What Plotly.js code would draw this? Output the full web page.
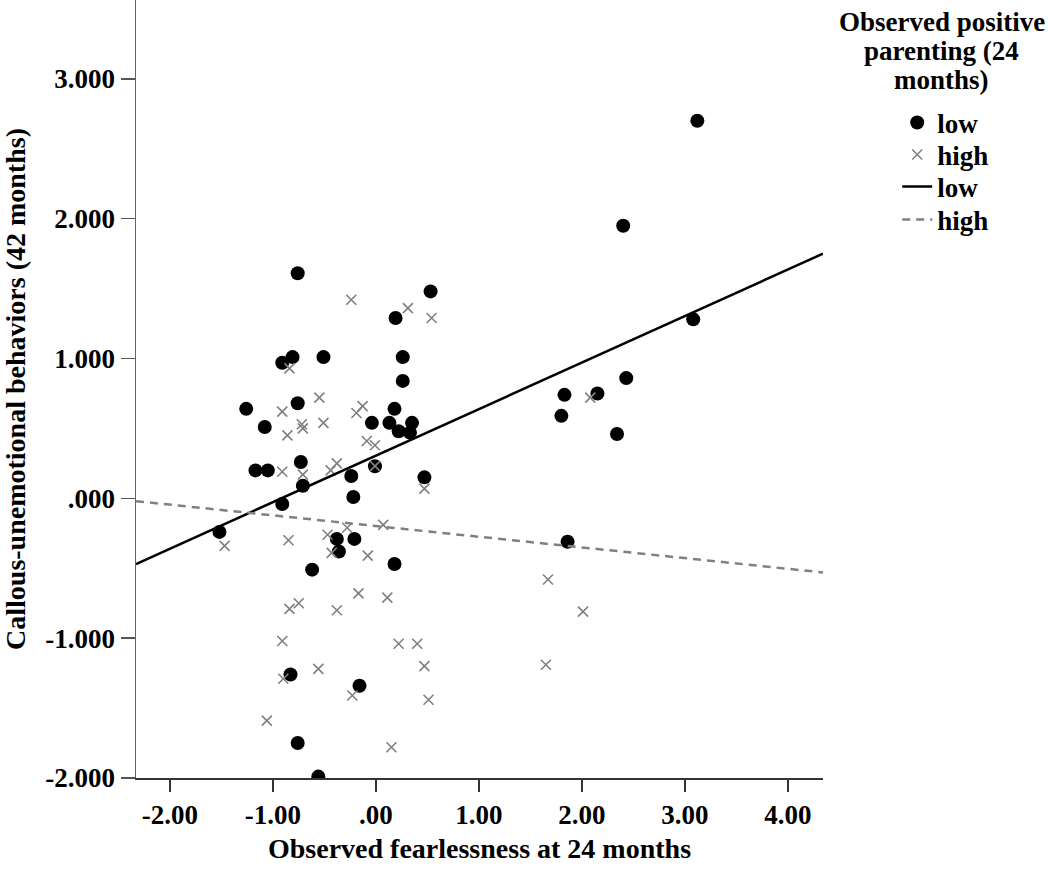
<!DOCTYPE html>
<html>
<head>
<meta charset="utf-8">
<script src="https://cdn.plot.ly/plotly-3.0.1.min.js"></script>
<style>html,body{margin:0;padding:0;background:#fff;}#chart{width:1050px;height:872px;}</style>
</head>
<body>
<div id="chart"></div>
<script>
// Low positive parenting (filled circles)
const lowX = [-1.52,-1.26,-1.08,-1.17,-1.05,-0.91,-0.81,-0.76,-0.76,-0.73,-0.71,-0.91,-0.83,-0.76,-0.56,-0.62,-0.51,-0.38,-0.36,-0.24,-0.22,-0.21,-0.16,-0.04,-0.01,0.19,0.18,0.26,0.26,0.13,0.22,0.35,0.33,0.18,0.47,0.53,1.80,1.83,1.86,2.15,2.34,2.40,2.43,3.08,3.12];
const lowY = [-0.24,0.64,0.51,0.20,0.20,0.97,1.01,1.61,0.68,0.26,0.09,-0.04,-1.26,-1.75,-1.99,-0.51,1.01,-0.29,-0.38,0.16,0.01,-0.29,-1.34,0.54,0.23,1.29,0.64,1.01,0.84,0.54,0.48,0.54,0.47,-0.47,0.15,1.48,0.59,0.74,-0.31,0.75,0.46,1.95,0.86,1.28,2.70];
// High positive parenting (crosses)
const highX = [-1.47,-0.85,-0.84,-0.91,-0.55,-0.86,-0.72,-0.71,-0.51,-0.91,-0.71,-0.44,-0.38,-0.24,0.31,0.54,-0.13,-0.19,-0.09,-0.01,-0.01,0.47,-0.47,-0.28,0.07,-0.43,-0.08,-0.84,-0.75,-0.38,-0.17,0.11,-0.91,-0.90,-0.56,-0.23,-1.06,0.22,0.40,0.47,0.51,0.15,1.67,2.01,1.65,2.08];
const highY = [-0.34,-0.30,0.93,0.62,0.72,0.45,0.53,0.50,0.54,0.19,0.17,0.20,0.25,1.42,1.36,1.29,0.66,0.61,0.41,0.38,0.23,0.07,-0.26,-0.21,-0.19,-0.39,-0.41,-0.79,-0.75,-0.80,-0.68,-0.71,-1.02,-1.29,-1.22,-1.41,-1.59,-1.04,-1.04,-1.20,-1.44,-1.78,-0.58,-0.81,-1.19,0.72];
// Fit lines (end points)
const fitX = [-2.33, 4.34];
const fitLowY = [-0.47, 1.75];
const fitHighY = [-0.02, -0.53];
// Ticks
const xTickVals = [-2,-1,0,1,2,3,4];
const xTickText = ["-2.00","-1.00",".00","1.00","2.00","3.00","4.00"];
const yTickVals = [-2,-1,0,1,2,3];
const yTickText = ["-2.000","-1.000",".000","1.000","2.000","3.000"];
// Legend
const legendTitleLines = ["Observed positive", "parenting (24", "months)"];
const legendNames = ["low", "high", "low", "high"];

const FONT = "Liberation Serif, Times New Roman, serif";
const LEG_FONT = {family: FONT, size: 27, color: '#000', weight: 'bold'};

const traces = [
  {x: lowX, y: lowY, type: 'scatter', mode: 'markers', name: legendNames[0], legend: 'legend',
   marker: {symbol: 'circle', size: 14, color: '#000'}},
  {x: highX, y: highY, type: 'scatter', mode: 'markers', name: legendNames[1], legend: 'legend2',
   marker: {symbol: 'x-thin-open', size: 10, color: '#808080', line: {width: 1.6, color: '#808080'}}},
  {x: fitX, y: fitLowY, type: 'scatter', mode: 'lines', name: legendNames[2], legend: 'legend3',
   line: {color: '#000', width: 2.5}},
  {x: fitX, y: fitHighY, type: 'scatter', mode: 'lines', name: legendNames[3], legend: 'legend4',
   line: {color: '#808080', width: 2.5, dash: '8px,6px'}}
];

// plot area: top 0, bottom 778 px
const PH = 778;
function py(pxY) { return 1 - pxY / PH; }
const legX = 1.108;
function leg(yc) {
  return {x: legX, xanchor: 'left', y: py(yc), yanchor: 'middle', font: LEG_FONT,
          bgcolor: 'rgba(0,0,0,0)', borderwidth: 0, itemwidth: 30};
}

const titleY = [22, 51, 80];
const annotations = legendTitleLines.map((t, i) => ({
  xref: 'paper', yref: 'paper', x: 1.173, y: py(titleY[i]), xanchor: 'center', yanchor: 'middle',
  showarrow: false, text: '<b>' + t + '</b>',
  font: {family: FONT, size: 27, color: '#000'}
}));

const layout = {
  width: 1050, height: 872,
  margin: {l: 136, r: 227, t: 0, b: 94},
  paper_bgcolor: '#fff', plot_bgcolor: '#fff',
  font: {family: FONT, size: 27, color: '#000'},
  showlegend: true,
  xaxis: {
    range: [-2.33, 4.34], tickvals: xTickVals, ticktext: xTickText,
    showgrid: false, zeroline: false, showline: true, linecolor: '#333', linewidth: 1.5,
    ticks: 'outside', ticklen: 12, tickwidth: 1.5, tickcolor: '#333',
    tickfont: {family: FONT, size: 27, weight: 'bold'},
    title: {text: '<b>Observed fearlessness at 24 months</b>', font: {family: FONT, size: 28}, standoff: 9}
  },
  yaxis: {
    range: [-2.0, 3.564], tickvals: yTickVals, ticktext: yTickText,
    showgrid: false, zeroline: false, showline: true, linecolor: '#666', linewidth: 1.5,
    ticks: 'outside', ticklen: 14, tickwidth: 1.5, tickcolor: '#555',
    tickfont: {family: FONT, size: 27, weight: 'bold'},
    title: {text: '<b>Callous-unemotional behaviors (42 months)</b>', font: {family: FONT, size: 28}, standoff: 21}
  },
  legend: leg(123),
  legend2: leg(155),
  legend3: leg(187),
  legend4: leg(220),
  annotations: annotations
};

Plotly.newPlot('chart', traces, layout, {displayModeBar: false, staticPlot: true});
</script>
</body>
</html>
